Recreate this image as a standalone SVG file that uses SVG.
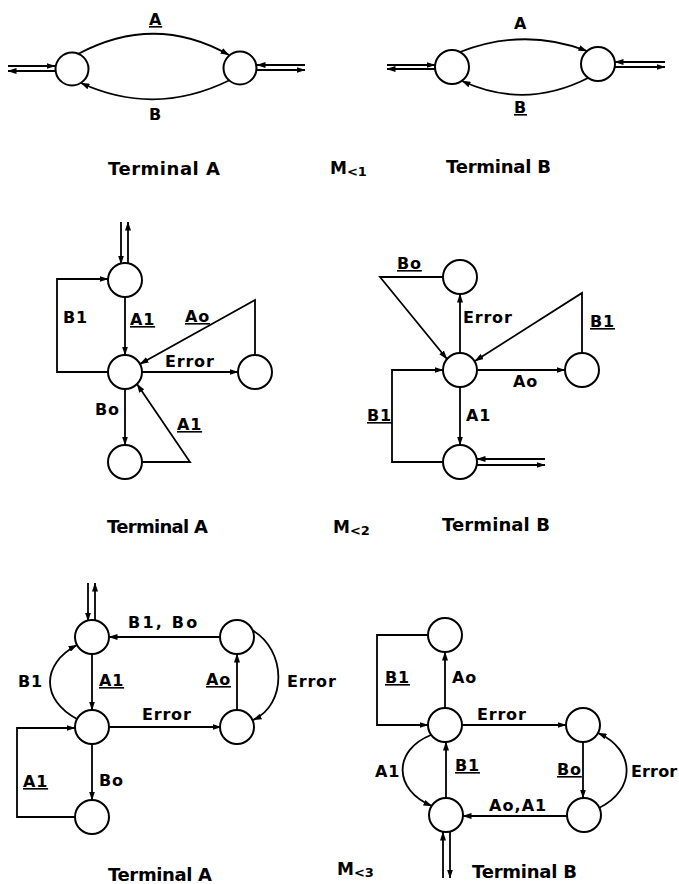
<svg xmlns="http://www.w3.org/2000/svg" width="679" height="884" viewBox="0 0 679 884">
<style>
.n{fill:#fff;stroke:#000;stroke-width:2}
.c path,.c line{fill:none;stroke:#000;stroke-width:1.8}
.a{marker-end:url(#ah)}
text{font-family:"DejaVu Sans","Liberation Sans",sans-serif;font-weight:bold;fill:#000}
.l{font-size:16px;letter-spacing:0.8px}
.u{text-decoration:underline}
.t{font-size:18px}
.m{font-size:17px}
.s{font-size:13px}
</style>
<defs>
<marker id="ah" markerWidth="9" markerHeight="6" refX="8.5" refY="3" orient="auto" markerUnits="userSpaceOnUse"><path d="M0,0 L9,3 L0,6 z" fill="#000"/></marker>
</defs>
<g id="connectors" class="c">
<!-- M<1 Terminal A -->
<path class="a" d="M78 54 Q155 13 229 55"/>
<path class="a" d="M230 80 Q155 117 81 83"/>
<line class="a" x1="8" y1="66" x2="55" y2="66"/>
<line class="a" x1="55" y1="71" x2="8" y2="71"/>
<line class="a" x1="305" y1="65" x2="257" y2="65"/>
<line class="a" x1="257" y1="70" x2="305" y2="70"/>
<!-- M<1 Terminal B -->
<path class="a" d="M460 52 Q524 27 587 51"/>
<path class="a" d="M588 78 Q525 110 462 81"/>
<line class="a" x1="387" y1="65" x2="435" y2="65"/>
<line class="a" x1="435" y1="69" x2="387" y2="69"/>
<line class="a" x1="665" y1="62" x2="615" y2="62"/>
<line class="a" x1="615" y1="67" x2="665" y2="67"/>
<!-- M<2 Terminal A -->
<line class="a" x1="121" y1="222" x2="121" y2="264"/>
<line class="a" x1="128" y1="264" x2="128" y2="222"/>
<path class="a" d="M125 297 V355"/>
<path class="a" d="M108 372 H57 V279 H108"/>
<path class="a" d="M142 372 H238"/>
<path class="a" d="M255 355 V300 L140 364"/>
<path class="a" d="M125 389 V445"/>
<path class="a" d="M142 462 H190 L137 384"/>
<!-- M<2 Terminal B -->
<path class="a" d="M460 353 V294"/>
<path class="a" d="M443 277 H380 L447 359"/>
<path class="a" d="M477 370 H565"/>
<path class="a" d="M582 353 V293 L475 361"/>
<path class="a" d="M460 387 V445"/>
<path class="a" d="M443 462 H392 V370 H443"/>
<line class="a" x1="545" y1="459" x2="477" y2="459"/>
<line class="a" x1="477" y1="465" x2="545" y2="465"/>
<!-- M<3 Terminal A -->
<line class="a" x1="88" y1="583" x2="88" y2="621"/>
<line class="a" x1="95" y1="621" x2="95" y2="583"/>
<path class="a" d="M220 637 H109"/>
<path class="a" d="M92 654 V710"/>
<path class="a" d="M77 719 C41 700 41 664 77 645"/>
<path class="a" d="M109 727 H221"/>
<path class="a" d="M237 709 V654"/>
<path class="a" d="M252 630 C287 650 287 705 253 720"/>
<path class="a" d="M76 817 H17 V728 H75"/>
<path class="a" d="M92 744 V800"/>
<!-- M<3 Terminal B -->
<path class="a" d="M445 708 V652"/>
<path class="a" d="M428 635 H377 V725 H428"/>
<path class="a" d="M462 725 H566"/>
<path class="a" d="M446 798 V742"/>
<path class="a" d="M431 735 C393 750 393 790 432 806"/>
<path class="a" d="M583 742 V798"/>
<path class="a" d="M567 816 H463"/>
<path class="a" d="M599 808 C636 790 636 750 598 733"/>
<line class="a" x1="443" y1="878" x2="443" y2="832"/>
<line class="a" x1="450" y1="832" x2="450" y2="878"/>
</g>
<g id="m1-a-left"><circle class="n" cx="72" cy="69" r="16.5"/></g>
<g id="m1-a-right"><circle class="n" cx="240" cy="68" r="16.5"/></g>
<g id="m1-b-left"><circle class="n" cx="452" cy="67" r="17"/></g>
<g id="m1-b-right"><circle class="n" cx="598" cy="64" r="17"/></g>
<g id="m2-a-top"><circle class="n" cx="125" cy="280" r="17"/></g>
<g id="m2-a-mid"><circle class="n" cx="125" cy="372" r="17"/></g>
<g id="m2-a-right"><circle class="n" cx="255" cy="372" r="17"/></g>
<g id="m2-a-bot"><circle class="n" cx="125" cy="462" r="17"/></g>
<g id="m2-b-top"><circle class="n" cx="460" cy="277" r="17"/></g>
<g id="m2-b-mid"><circle class="n" cx="460" cy="370" r="17"/></g>
<g id="m2-b-right"><circle class="n" cx="582" cy="370" r="17"/></g>
<g id="m2-b-bot"><circle class="n" cx="460" cy="462" r="17"/></g>
<g id="m3-a-tl"><circle class="n" cx="92" cy="637" r="17"/></g>
<g id="m3-a-tr"><circle class="n" cx="237" cy="637" r="17"/></g>
<g id="m3-a-ml"><circle class="n" cx="92" cy="727" r="17"/></g>
<g id="m3-a-mr"><circle class="n" cx="237" cy="727" r="17"/></g>
<g id="m3-a-bl"><circle class="n" cx="92" cy="817" r="17"/></g>
<g id="m3-b-top"><circle class="n" cx="445" cy="635" r="17"/></g>
<g id="m3-b-mid"><circle class="n" cx="445" cy="725" r="17"/></g>
<g id="m3-b-right"><circle class="n" cx="583" cy="725" r="17"/></g>
<g id="m3-b-bl"><circle class="n" cx="446" cy="815" r="17"/></g>
<g id="m3-b-br"><circle class="n" cx="584" cy="815" r="17"/></g>
<g id="labels">
<text class="l u" x="149" y="25">A</text>
<text class="l" x="149" y="120">B</text>
<text class="l" x="514" y="29">A</text>
<text class="l u" x="514" y="113">B</text>
<text class="t" x="108" y="175" textLength="112">Terminal A</text>
<text x="330" y="174"><tspan class="m">M</tspan><tspan class="s" dy="2">&lt;1</tspan></text>
<text class="t" x="446" y="173" textLength="105">Terminal B</text>

<text class="l u" x="130" y="325">A1</text>
<text class="l" x="63" y="323">B1</text>
<text class="l u" x="185" y="322">Ao</text>
<text class="l" x="165" y="367">Error</text>
<text class="l" x="95" y="415">Bo</text>
<text class="l u" x="177" y="430">A1</text>
<text class="l u" x="397" y="269">Bo</text>
<text class="l" x="463" y="323">Error</text>
<text class="l u" x="590" y="327">B1</text>
<text class="l" x="513" y="387">Ao</text>
<text class="l" x="466" y="421">A1</text>
<text class="l u" x="367" y="421">B1</text>
<text class="t" x="107" y="533" textLength="101">Terminal A</text>
<text x="333" y="533"><tspan class="m">M</tspan><tspan class="s" dy="2">&lt;2</tspan></text>
<text class="t" x="442" y="531" textLength="108">Terminal B</text>

<text class="l" x="128" y="628" textLength="70">B1, Bo</text>
<text class="l" x="18" y="687">B1</text>
<text class="l u" x="99" y="686">A1</text>
<text class="l u" x="206" y="685">Ao</text>
<text class="l" x="287" y="687">Error</text>
<text class="l" x="142" y="720">Error</text>
<text class="l u" x="23" y="787">A1</text>
<text class="l" x="99" y="786">Bo</text>
<text class="l" x="452" y="683">Ao</text>
<text class="l u" x="385" y="683">B1</text>
<text class="l" x="477" y="720">Error</text>
<text class="l u" x="455" y="771">B1</text>
<text class="l" x="375" y="777">A1</text>
<text class="l u" x="557" y="775">Bo</text>
<text class="l" x="631" y="777" textLength="47">Error</text>
<text class="l" x="489" y="811" textLength="58">Ao,A1</text>
<text class="t" x="108" y="881" textLength="104">Terminal A</text>
<text x="337" y="875"><tspan class="m">M</tspan><tspan class="s" dy="2">&lt;3</tspan></text>
<text class="t" x="472" y="878" textLength="105">Terminal B</text>
</g>
</svg>
